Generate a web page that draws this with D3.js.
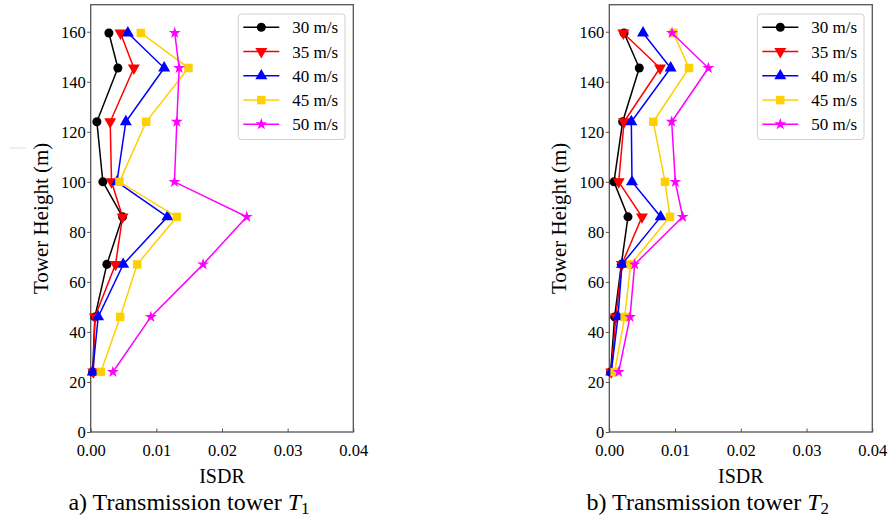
<!DOCTYPE html>
<html><head><meta charset="utf-8">
<script src="https://cdn.jsdelivr.net/npm/d3@7"></script>
<style>body{margin:0;background:#fff}svg{display:block}
svg text{font-family:"Liberation Serif","Times New Roman","DejaVu Serif",serif}</style>
</head><body>
<svg id="chart" width="891" height="521"></svg>
<script>
const heights = [24, 46, 67, 86, 100, 124, 145.5, 159.5];
const seriesNames = ["30 m/s", "35 m/s", "40 m/s", "45 m/s", "50 m/s"];
const seriesColors = ["#000000", "#ff0000", "#0000ff", "#ffd000", "#ff00ff"];
const xTicks = [0, 0.01, 0.02, 0.03, 0.04];
const yTicks = [0, 20, 40, 60, 80, 100, 120, 140, 160];
// Tower T1 ISDR values, bottom to top
const t1_30 = [0.0003, 0.00064, 0.00246, 0.00485, 0.00185, 0.00094, 0.00414, 0.00277];
const t1_35 = [0.0004, 0.00064, 0.00378, 0.00485, 0.00317, 0.00297, 0.00657, 0.00454];
const t1_40 = [0.0003, 0.00114, 0.00495, 0.01169, 0.0040, 0.00535, 0.01119, 0.00566];
const t1_45 = [0.00155, 0.00449, 0.00708, 0.01312, 0.00438, 0.00845, 0.01489, 0.00764];
const t1_50 = [0.00338, 0.00916, 0.01712, 0.02377, 0.01276, 0.01312, 0.01347, 0.0128];
// Tower T2 ISDR values, bottom to top
const t2_30 = [0.0002, 0.00081, 0.00183, 0.00284, 0.00071, 0.00203, 0.00456, 0.00224];
const t2_35 = [0.0003, 0.0010, 0.0019, 0.00497, 0.00143, 0.00224, 0.00771, 0.00213];
const t2_40 = [0.0003, 0.00132, 0.00193, 0.00781, 0.00345, 0.00335, 0.00933, 0.00513];
const t2_45 = [0.00081, 0.00234, 0.00325, 0.00923, 0.00847, 0.00669, 0.01212, 0.00974];
const t2_50 = [0.00143, 0.00315, 0.00386, 0.01116, 0.01004, 0.00949, 0.01506, 0.00954];

const svg = d3.select("#chart");
const symbolTypes = [d3.symbolCircle, d3.symbolTriangle, d3.symbolTriangle, d3.symbolSquare, d3.symbolStar];
const symbolSizes = [64, 62, 62, 72, 44];
const symbolRot = [0, 180, 0, 0, 0];

function drawPanel(left, right, seriesList, prefix, sub) {
  const top = 4.7, bottom = 432;
  const x = d3.scaleLinear().domain([0, 0.04]).range([left, right]);
  const y = d3.scaleLinear().domain([0, 170.8]).range([bottom, top]);
  const g = svg.append("g");
  g.append("rect").attr("x", left).attr("y", top).attr("width", right - left).attr("height", bottom - top)
    .attr("fill", "none").attr("stroke", "#555").attr("stroke-width", 1.3);
  const xa = g.append("g").attr("transform", `translate(0,${bottom})`)
    .call(d3.axisBottom(x).tickValues(xTicks).tickFormat(d3.format(".2f")).tickSizeInner(-3.5).tickSizeOuter(0).tickPadding(12.5));
  xa.select(".domain").remove();
  xa.selectAll("line").attr("stroke", "#555");
  xa.selectAll("text").attr("font-size", 16.5).attr("fill", "#000").attr("dy", "0.7em").attr("font-family", null);
  const ya = g.append("g").attr("transform", `translate(${left},0)`)
    .call(d3.axisLeft(y).tickValues(yTicks).tickSizeInner(3.5).tickSizeOuter(0).tickPadding(1.5));
  ya.select(".domain").remove();
  ya.selectAll("line").attr("stroke", "#555");
  ya.selectAll("text").attr("font-size", 16.5).attr("fill", "#000").attr("font-family", null);
  g.append("text").attr("x", (left + right) / 2).attr("y", 483).attr("text-anchor", "middle")
    .attr("font-size", 20).text("ISDR");
  g.append("text").attr("transform", `translate(${left - 43},${(top + bottom) / 2}) rotate(-90)`)
    .attr("text-anchor", "middle").attr("font-size", 21).text("Tower Height (m)");
  const t = g.append("text").attr("x", (left + right) / 2 - 33).attr("y", 510).attr("text-anchor", "middle")
    .attr("font-size", 24);
  t.append("tspan").text(prefix + " ");
  t.append("tspan").attr("font-style", "italic").text("T");
  t.append("tspan").attr("font-size", 17).attr("dy", 4).text(sub);
  const line = d3.line().x(d => x(d[0])).y(d => y(d[1]));
  seriesList.forEach((vals, i) => {
    const pts = vals.map((v, k) => [v, heights[k]]);
    g.append("path").attr("d", line(pts)).attr("fill", "none").attr("stroke", seriesColors[i]).attr("stroke-width", 1.5);
    g.selectAll(null).data(pts).enter().append("path")
      .attr("d", d3.symbol().type(symbolTypes[i]).size(symbolSizes[i]))
      .attr("transform", d => `translate(${x(d[0])},${y(d[1])}) rotate(${symbolRot[i]})`)
      .attr("fill", seriesColors[i]);
  });
  const lx = right - 115, ly = 14;
  g.append("rect").attr("x", lx).attr("y", ly).attr("width", 106.7).attr("height", 125.5).attr("rx", 3)
    .attr("fill", "#fff").attr("fill-opacity", 0.9).attr("stroke", "#d0d0d0").attr("stroke-width", 1);
  seriesNames.forEach((name, i) => {
    const cy = ly + 13.3 + i * 24.25;
    g.append("line").attr("x1", lx + 5).attr("x2", lx + 41).attr("y1", cy).attr("y2", cy)
      .attr("stroke", seriesColors[i]).attr("stroke-width", 1.5);
    g.append("path").attr("d", d3.symbol().type(symbolTypes[i]).size(symbolSizes[i]))
      .attr("transform", `translate(${lx + 23},${cy}) rotate(${symbolRot[i]})`).attr("fill", seriesColors[i]);
    g.append("text").attr("x", lx + 54).attr("y", cy + 6).attr("font-size", 17).text(name);
  });
}

drawPanel(90.7, 353.3, [t1_30, t1_35, t1_40, t1_45, t1_50], "a) Transmission tower", "1");
drawPanel(609.3, 872.3, [t2_30, t2_35, t2_40, t2_45, t2_50], "b) Transmission tower", "2");
svg.append("line").attr("x1", 10).attr("x2", 26).attr("y1", 148).attr("y2", 148).attr("stroke", "#ddd").attr("stroke-width", 1);
</script>
</body></html>
